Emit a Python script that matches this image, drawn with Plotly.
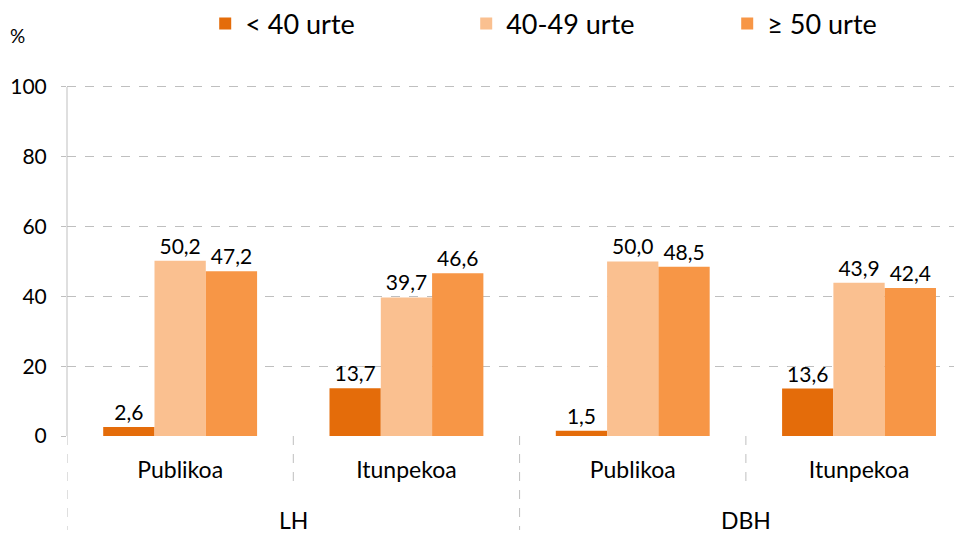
import plotly.graph_objects as go

groups = ["LH", "LH", "DBH", "DBH"]
subcats = ["Publikoa", "Itunpekoa", "Publikoa", "Itunpekoa"]
cat_ids = ["LH-Publikoa", "LH-Itunpekoa", "DBH-Publikoa", "DBH-Itunpekoa"]
series_names = ["< 40 urte", "40-49 urte", "≥ 50 urte"]
under40 = [2.6, 13.7, 1.5, 13.6]
age40_49 = [50.2, 39.7, 50.0, 43.9]
over50 = [47.2, 46.6, 48.5, 42.4]
colors = ["#E46C0A", "#FAC090", "#F79646"]
y_ticks = [0, 20, 40, 60, 80, 100]

FONT = "Lato"
fig = go.Figure()
for name, vals, col in zip(series_names, [under40, age40_49, over50], colors):
    fig.add_trace(go.Bar(
        x=cat_ids, y=vals, name=name,
        marker=dict(color=col, line=dict(width=0)),
        texttemplate="%{y:.1f}", textposition="outside",
        textfont=dict(size=21, color="#000000", family=FONT),
        cliponaxis=False,
    ))

# dashed separators for the two-level category axis
shape_lines = []
for xv, ybot in [(-0.5, -0.264), (0.5, -0.143), (1.5, -0.264), (2.5, -0.143)]:
    shape_lines.append(dict(type="line", xref="x", yref="paper", x0=xv, x1=xv,
                            y0=0, y1=ybot, line=dict(color="#BFBFBF", width=1, dash="dash")))

annotations = [
    dict(text="%", xref="paper", yref="paper", x=-0.055, y=1.126, showarrow=False,
         font=dict(size=19, family=FONT, color="#000"), xanchor="center", yanchor="middle"),
]
outer = [("LH", 0.5), ("DBH", 2.5)]
for lab, xv in outer:
    annotations.append(dict(text=lab, xref="x", yref="paper", x=xv, y=-0.236, showarrow=False,
                            font=dict(size=23, family=FONT, color="#000"),
                            xanchor="center", yanchor="middle"))

fig.update_layout(
    width=962, height=533,
    margin=dict(l=59, r=8, t=72, b=105, autoexpand=False),
    plot_bgcolor="white", paper_bgcolor="white",
    separators=",.",
    barmode="group", bargap=0.32, bargroupgap=0,
    font=dict(family=FONT, size=19, color="#000"),
    showlegend=True,
    legend=dict(orientation="h", xref="container", yref="container",
                x=0.205, y=0.97, xanchor="left", yanchor="middle",
                entrywidth=216, entrywidthmode="pixels",
                font=dict(size=27, family=FONT, color="#000"),
                bgcolor="rgba(0,0,0,0)", traceorder="normal"),
    shapes=shape_lines,
    annotations=annotations,
)
fig.update_xaxes(
    type="category", categoryorder="array", categoryarray=cat_ids,
    tickvals=cat_ids, ticktext=subcats, range=[-0.5, 3.455],
    showline=False, showgrid=False, ticks="", zeroline=False,
    ticklabelstandoff=18, automargin=False,
    tickfont=dict(size=23, family=FONT, color="#000"),
)
fig.update_yaxes(
    range=[0, 102], tickvals=y_ticks, showgrid=True, gridcolor="#BFBFBF",
    griddash="dash", gridwidth=1, zeroline=False, automargin=False,
    showline=False,
    ticks="outside", ticklen=5, tickcolor="#BFBFBF",
    ticklabelstandoff=10,
    tickfont=dict(size=21, family=FONT, color="#000"),
)
# y-axis line from 0 to 100 only, as in the reference
fig.add_shape(type="line", xref="paper", yref="y", x0=0, x1=0, y0=0, y1=y_ticks[-1],
              line=dict(color="#BFBFBF", width=1))
fig.write_html("out.html")
